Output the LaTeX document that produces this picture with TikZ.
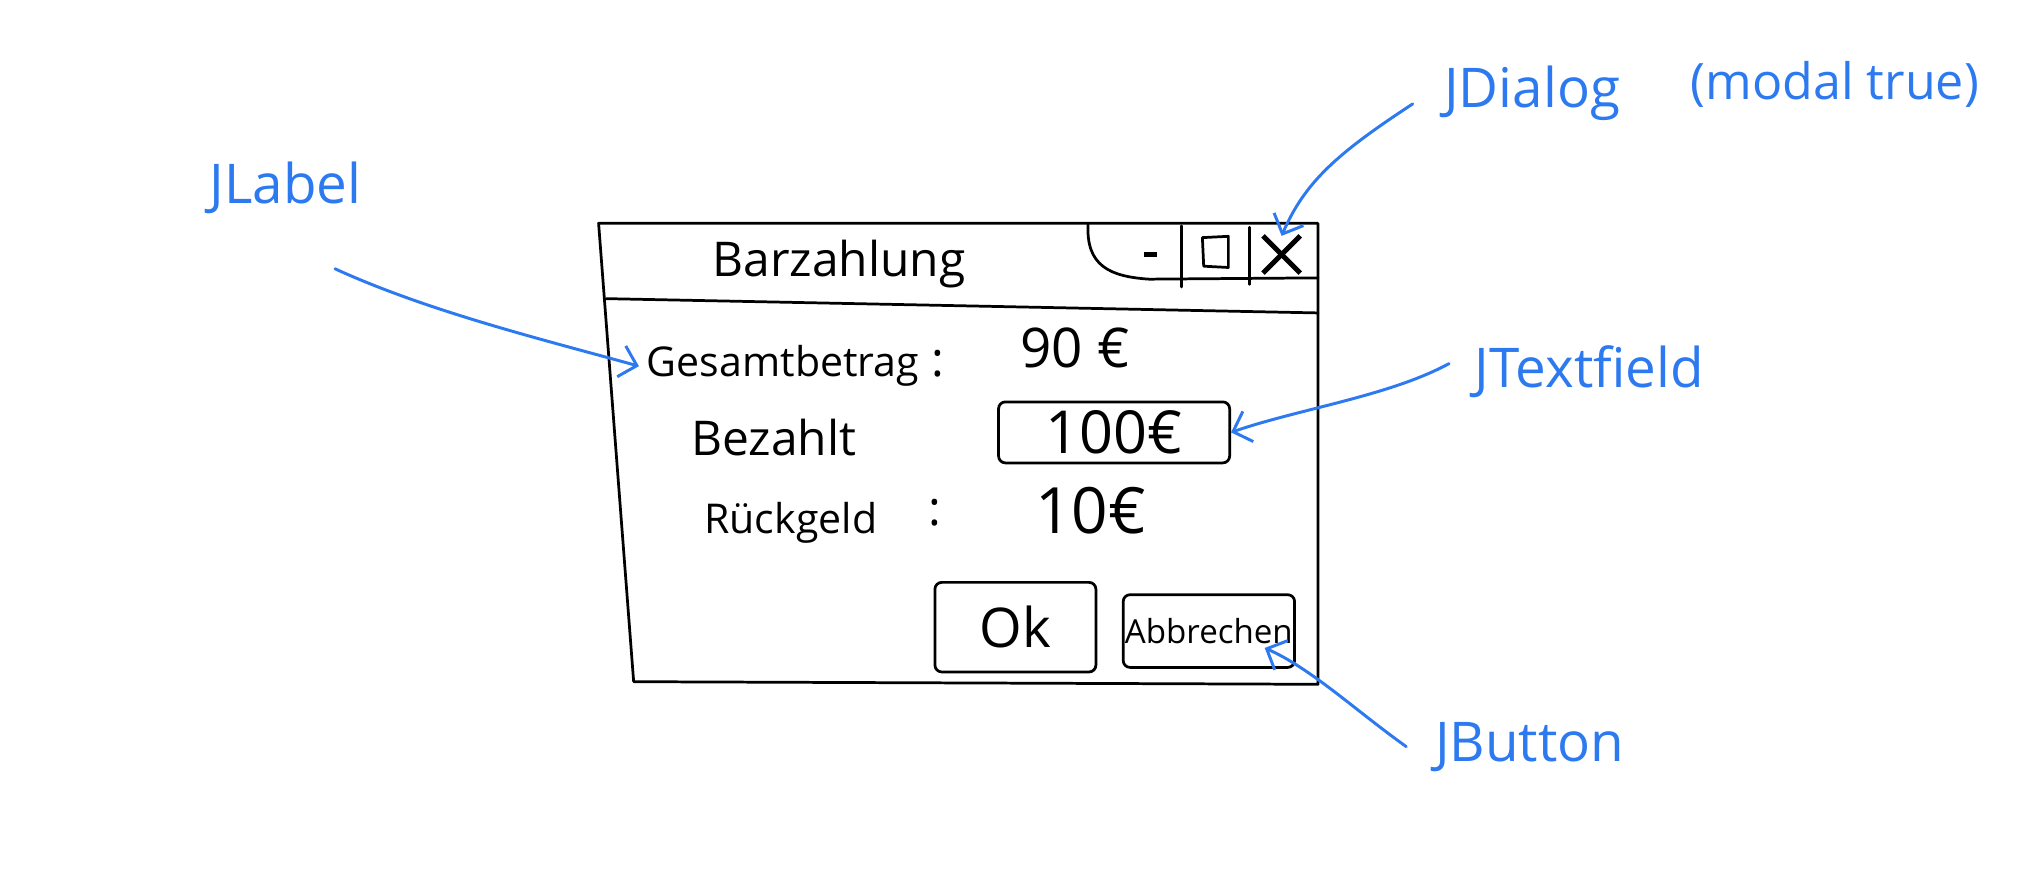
\documentclass[tikz,border=0pt]{standalone}
\usepackage{fontspec}
\setmainfont{Open Sans}
\usetikzlibrary{arrows.meta,positioning}
\definecolor{penblue}{RGB}{45,122,240}
\tikzset{
  pen/.style={line width=1.2pt, line cap=round, line join=round},
  hand/.style={font=\fontsize{21}{25}\selectfont},
  small/.style={font=\fontsize{14.5}{18}\selectfont},
  note/.style={text=penblue, font=\fontsize{24}{28}\selectfont},
  pointer/.style={draw=penblue, line width=1.3pt, line cap=round,
    -{Straight Barb[length=7pt,width=14pt]}},
  btn/.style={draw, pen, rounded corners=3pt, inner sep=0pt},
}
\begin{document}
\begin{tikzpicture}[x=0.02cm, y=-0.02cm]
  \useasboundingbox (0,0) rectangle (1568,672);

  % dialog frame
  \coordinate (tl) at (461,172);
  \coordinate (tr) at (1015,172);
  \coordinate (br) at (1015,527);
  \coordinate (bl) at (488,525);
  \draw[pen] (tl) -- (tr) -- (br) -- (bl) -- cycle;
  \draw[pen] (467,230) -- (1015,241);

  % title bar buttons
  \draw[pen] (838,172) .. controls (836,205) and (855,213) .. (885,215) -- (1015,214);
  \draw[pen] (910,174) -- (910,221);
  \draw[pen] (962,175) -- (962,219);
  \draw[line width=2.4pt] (881,196) -- (891,196);
  \draw[pen] (926,183) -- (946,182) -- (946,206) -- (927,205) -- cycle;
  \node[inner sep=0pt, minimum size=0.56cm] (closebtn) at (987,196) {};
  \draw[line width=2.2pt] (closebtn.north west) -- (closebtn.south east);
  \draw[line width=2.2pt] (closebtn.north east) -- (closebtn.south west);
  \node[hand] (title) at (646,203) {Barzahlung};

  % content
  \node[hand, font=\fontsize{18}{22}\selectfont] (gesamt) at (603,282) {Gesamtbetrag};
  \node[hand] (colon1) at (722,280) {:};
  \node[hand, font=\fontsize{24}{28}\selectfont] (betrag) at (828,268) {90 €};
  \node[hand] (bezahlt) at (596,337) {Bezahlt};
  \node[btn, hand, font=\fontsize{26}{30}\selectfont, minimum width=3.56cm, minimum height=0.94cm] (field) at (858,333) {100€};
  \node[hand, font=\fontsize{18}{22}\selectfont] (rueck) at (609,403) {Rückgeld};
  \node[hand] (colon2) at (720,395) {:};
  \node[hand, font=\fontsize{28}{32}\selectfont] (wechsel) at (840,393) {10€};
  \node[btn, hand, font=\fontsize{24}{28}\selectfont, minimum width=2.48cm, minimum height=1.38cm] (ok) at (782,483) {Ok};
  \node[btn, small, minimum width=2.64cm, minimum height=1.12cm] (abbr) at (931,486) {Abbrechen};

  % annotations
  \node[note] (dialog) at (1180,72) {JDialog};
  \node[note, font=\fontsize{22}{26}\selectfont] (modal) at (1413,65) {(modal true)};
  \node[note] (jlabel) at (220,145) {JLabel};
  \node[note] (jfield) at (1224,286) {JTextfield};
  \node[note] (jbutton) at (1178,575) {JButton};
  \coordinate (c1) at (1088,80);
  \coordinate (c2) at (258,207);
  \coordinate (c3) at (1116,280);
  \coordinate (c4) at (1083,575);
  \draw[pointer] (c1) .. controls (1030,118) and (1005,140) .. (closebtn.north);
  \draw[pointer] (c2) .. controls (330,240) and (420,262) .. (gesamt.west);
  \draw[pointer] (c3) .. controls (1070,305) and (1000,315) .. (field.east);
  \draw[pointer] (c4) .. controls (1045,548) and (1010,515) .. ([xshift=0.86cm,yshift=-0.26cm]abbr.center);
\end{tikzpicture}
\end{document}
